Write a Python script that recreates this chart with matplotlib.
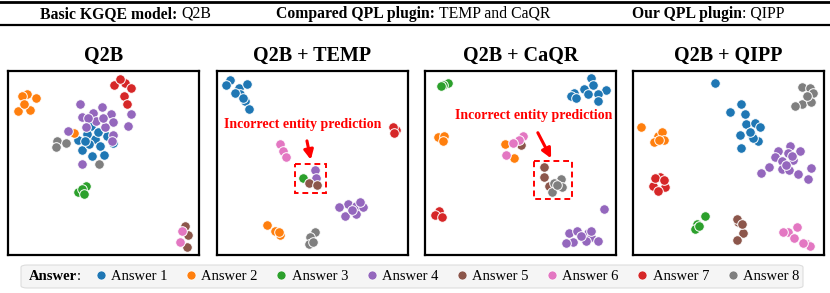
import matplotlib
matplotlib.use('Agg')
import matplotlib.pyplot as plt
from matplotlib.lines import Line2D
from matplotlib.patches import Rectangle, FancyBboxPatch

plt.rcParams['font.family'] = ['Liberation Serif', 'DejaVu Serif']

W, H = 830, 293

answers = ['Answer 1', 'Answer 2', 'Answer 3', 'Answer 4',
           'Answer 5', 'Answer 6', 'Answer 7', 'Answer 8']
colors = ['#1f77b4', '#ff7f0e', '#2ca02c', '#9467bd',
          '#8c564b', '#e377c2', '#d62728', '#7f7f7f']

titles = ['Q2B', 'Q2B + TEMP', 'Q2B + CaQR', 'Q2B + QIPP']

# header: (bold part, plain part, left x in pixels)
header = [('Basic KGQE model: ', 'Q2B', 40),
          ('Compared QPL plugin: ', 'TEMP and CaQR', 276),
          ('Our QPL plugin', ': QIPP', 632)]

# embedding positions (0-100, y measured from the top) per panel, per answer
q2b = {
    'Answer 1': [(43.4, 29.8), (36.7, 37.4), (45.5, 37.1), (55.1, 39.4), (38.8, 43.0), (44.2, 46.1),
                 (50.2, 45.8), (48.1, 40.7), (41.1, 34.4), (51.6, 35.3), (42.5, 39.8), (47.2, 32.9), (40.2, 38.0)],
    'Answer 2': [(10.0, 12.7), (14.5, 14.8), (7.5, 13.6), (5.2, 21.7), (11.4, 21.2), (8.2, 17.7), (34.4, 33.5)],
    'Answer 3': [(40.6, 62.7), (36.7, 66.0), (38.5, 64.2), (39.7, 66.9)],
    'Answer 4': [(37.6, 18.1), (49.0, 19.5), (44.6, 22.6), (53.7, 23.5), (38.5, 25.0), (46.3, 27.1),
                 (55.1, 27.7), (50.9, 30.2), (55.1, 34.7), (64.3, 23.1), (62.9, 30.0), (31.5, 32.5),
                 (38.8, 50.3), (42.0, 25.3), (49.8, 25.3), (54.2, 38.0), (40.7, 30.4)],
    'Answer 5': [(92.7, 84.4), (94.4, 89.0), (93.5, 95.8)],
    'Answer 6': [(90.2, 92.8), (91.3, 86.8)],
    'Answer 7': [(55.4, 7.8), (61.0, 6.5), (60.7, 13.6), (62.4, 18.1), (58.6, 4.5), (64.3, 9.4)],
    'Answer 8': [(25.9, 38.0), (30.6, 39.1), (25.3, 41.2), (47.7, 50.3)],
}
temp = {
    'Answer 1': [(6.9, 5.1), (4.9, 7.6), (11.3, 9.0), (15.6, 7.2), (12.1, 12.7), (9.5, 11.8),
                 (14.7, 16.3), (16.5, 20.4), (13.5, 14.5)],
    'Answer 2': [(26.0, 83.7), (30.3, 86.8), (32.9, 89.0), (32.6, 87.7)],
    'Answer 3': [(45.1, 57.9)],
    'Answer 4': [(51.3, 53.9), (51.6, 58.2), (68.5, 72.3), (72.8, 73.2), (64.1, 73.8), (67.2, 78.7),
                 (72.8, 77.8), (76.3, 74.1), (74.9, 71.4), (70.7, 75.6)],
    'Answer 5': [(48.0, 60.6), (52.3, 61.8)],
    'Answer 6': [(32.9, 39.8), (34.7, 43.4), (36.1, 47.0)],
    'Answer 7': [(93.6, 32.0), (91.9, 30.7), (92.7, 33.5)],
    'Answer 8': [(51.1, 87.7), (48.5, 90.4), (48.2, 94.0), (50.3, 93.1)],
}
caqr = {
    'Answer 1': [(86.8, 3.6), (88.2, 7.6), (94.7, 10.3), (90.4, 12.7), (83.3, 9.9), (78.1, 11.8),
                 (76.7, 13.6), (90.7, 16.3), (78.9, 14.5), (85.1, 12.3)],
    'Answer 2': [(7.0, 35.8), (10.0, 35.3), (9.6, 38.0), (42.1, 39.8), (46.8, 47.4)],
    'Answer 3': [(12.3, 6.7), (9.6, 7.6), (8.2, 8.1)],
    'Answer 4': [(93.5, 75.0), (75.4, 88.2), (79.8, 87.2), (85.1, 88.2), (86.8, 90.4), (90.4, 92.2),
                 (77.5, 92.8), (73.7, 93.7), (84.2, 92.2), (81.9, 89.5), (86.8, 87.2)],
    'Answer 5': [(50.4, 40.1), (62.3, 52.4), (62.3, 57.5), (64.9, 62.4)],
    'Answer 6': [(51.4, 35.3), (42.5, 45.8), (49.1, 37.4), (46.1, 38.9)],
    'Answer 7': [(7.5, 76.3), (5.3, 78.1), (8.8, 79.6)],
    'Answer 8': [(71.4, 58.8), (67.5, 60.6), (66.7, 66.0), (71.9, 62.9), (69.3, 61.8)],
}
qipp = {
    'Answer 1': [(42.8, 6.3), (56.5, 18.1), (50.7, 22.1), (58.6, 23.5), (59.4, 28.9), (63.8, 28.0),
                 (66.4, 30.7), (55.9, 34.7), (62.1, 35.3), (65.6, 38.0), (62.9, 36.5), (56.8, 41.6), (61.2, 32.9)],
    'Answer 2': [(4.0, 30.7), (13.1, 35.3), (15.2, 33.1), (11.0, 38.5), (16.1, 37.6), (13.5, 37.6)],
    'Answer 3': [(37.6, 78.7), (33.7, 83.2), (32.7, 86.1), (34.4, 84.1)],
    'Answer 4': [(82.2, 40.7), (87.4, 43.4), (76.0, 43.4), (80.9, 44.3), (74.3, 47.0), (77.8, 48.8),
                 (83.9, 48.5), (71.2, 52.4), (67.0, 55.2), (77.8, 53.3), (81.8, 53.9), (86.5, 56.1),
                 (91.4, 58.8), (93.0, 52.8), (79.9, 51.0), (83.0, 46.1)],
    'Answer 5': [(55.1, 82.3), (54.2, 80.5), (57.7, 88.1), (54.5, 91.9), (57.2, 83.2)],
    'Answer 6': [(85.7, 85.0), (81.3, 87.7), (78.7, 87.7), (84.4, 90.8), (90.9, 94.0), (92.7, 94.9), (89.2, 93.7)],
    'Answer 7': [(14.0, 57.5), (10.5, 62.7), (17.0, 63.3), (13.1, 65.1), (11.7, 58.2), (16.3, 59.1)],
    'Answer 8': [(88.3, 8.7), (92.7, 9.4), (94.4, 12.1), (88.3, 18.1), (84.8, 19.0), (93.2, 16.6), (90.9, 13.4)],
}
panels = [q2b, temp, caqr, qipp]

# wrong-prediction callouts: (panel, box x0, x1, y0, y1, label x, label y, arrow tail, arrow tip)
callouts = [
    (1, 40.7, 57.2, 50.6, 66.5, 45.1, 28.9, (46.8, 36.5), (49.4, 49.7)),
    (2, 57.0, 77.2, 48.8, 69.6, 56.7, 24.4, (58.4, 32.2), (66.7, 48.8)),
]

fig = plt.figure(figsize=(W / 100, H / 100), dpi=100)
renderer = fig.canvas.get_renderer()

# header strip
fig.add_artist(Line2D([0, 1], [1 - 2 / H, 1 - 2 / H], color='black', lw=2))
fig.add_artist(Line2D([0, 1], [1 - 25 / H, 1 - 25 / H], color='black', lw=1.6))
hy = 1 - 14 / H
for bold, plain, x0 in header:
    t = fig.text(x0 / W, hy, bold, ha='left', va='center', fontsize=11.3, fontweight='bold')
    w = t.get_window_extent(renderer).width
    fig.text((x0 + w) / W, hy, plain, ha='left', va='center', fontsize=11.3)

lefts = [8, 217, 425, 633]
pw, ph = 191, 184
for i, (data, title) in enumerate(zip(panels, titles)):
    ax = fig.add_axes([lefts[i] / W, (H - 255) / H, pw / W, ph / H])
    for name, c in zip(answers, colors):
        pts = data[name]
        ax.scatter([p[0] for p in pts], [p[1] for p in pts], s=48, color=c,
                   edgecolor='white', linewidth=0.7, zorder=3)
    ax.set_xlim(0, 100)
    ax.set_ylim(100, 0)
    ax.set_xticks([])
    ax.set_yticks([])
    for sp in ax.spines.values():
        sp.set_linewidth(1.6)
    ax.set_title(title, fontsize=14.5, fontweight='bold', pad=7)
    for c in callouts:
        if c[0] != i:
            continue
        _, x0, x1, y0, y1, tx, ty, tail, tip = c
        ax.add_patch(Rectangle((x0, y0), x1 - x0, y1 - y0, fill=False, ec='red',
                               lw=1.4, ls=(0, (3, 2)), zorder=4))
        ax.text(tx, ty, 'Incorrect entity prediction', color='red', fontsize=10,
                fontweight='bold', ha='center', va='center', zorder=5)
        ax.annotate('', xy=tip, xytext=tail,
                    arrowprops=dict(arrowstyle='-|>', color='red', lw=2.2,
                                    mutation_scale=14), zorder=5)

# legend strip: light box, bold label, then the answer markers
ly = 1 - 276.5 / H
fig.add_artist(FancyBboxPatch((21 / W, (H - 288) / H), 782 / W, 23 / H,
                              boxstyle='round,pad=0,rounding_size=0.008',
                              transform=fig.transFigure, fc='#f5f5f5', ec='#dddddd', lw=0.8))
t = fig.text(29 / W, ly, 'Answer', ha='left', va='center', fontsize=10.5, fontweight='bold')
w = t.get_window_extent(renderer).width
fig.text((29 + w) / W, ly, ':', ha='left', va='center', fontsize=10.5)
handles = [Line2D([], [], ls='none', marker='o', markersize=6.5, markerfacecolor=c,
                  markeredgecolor='white', markeredgewidth=0.5) for c in colors]
leg = fig.legend(handles, answers, loc='center left', bbox_to_anchor=(95 / W, ly),
                 ncol=8, frameon=False, fontsize=10.5, handlelength=0.8, handletextpad=0.3,
                 columnspacing=1.22, borderpad=0, borderaxespad=0)

fig.savefig('out.png', dpi=100)
